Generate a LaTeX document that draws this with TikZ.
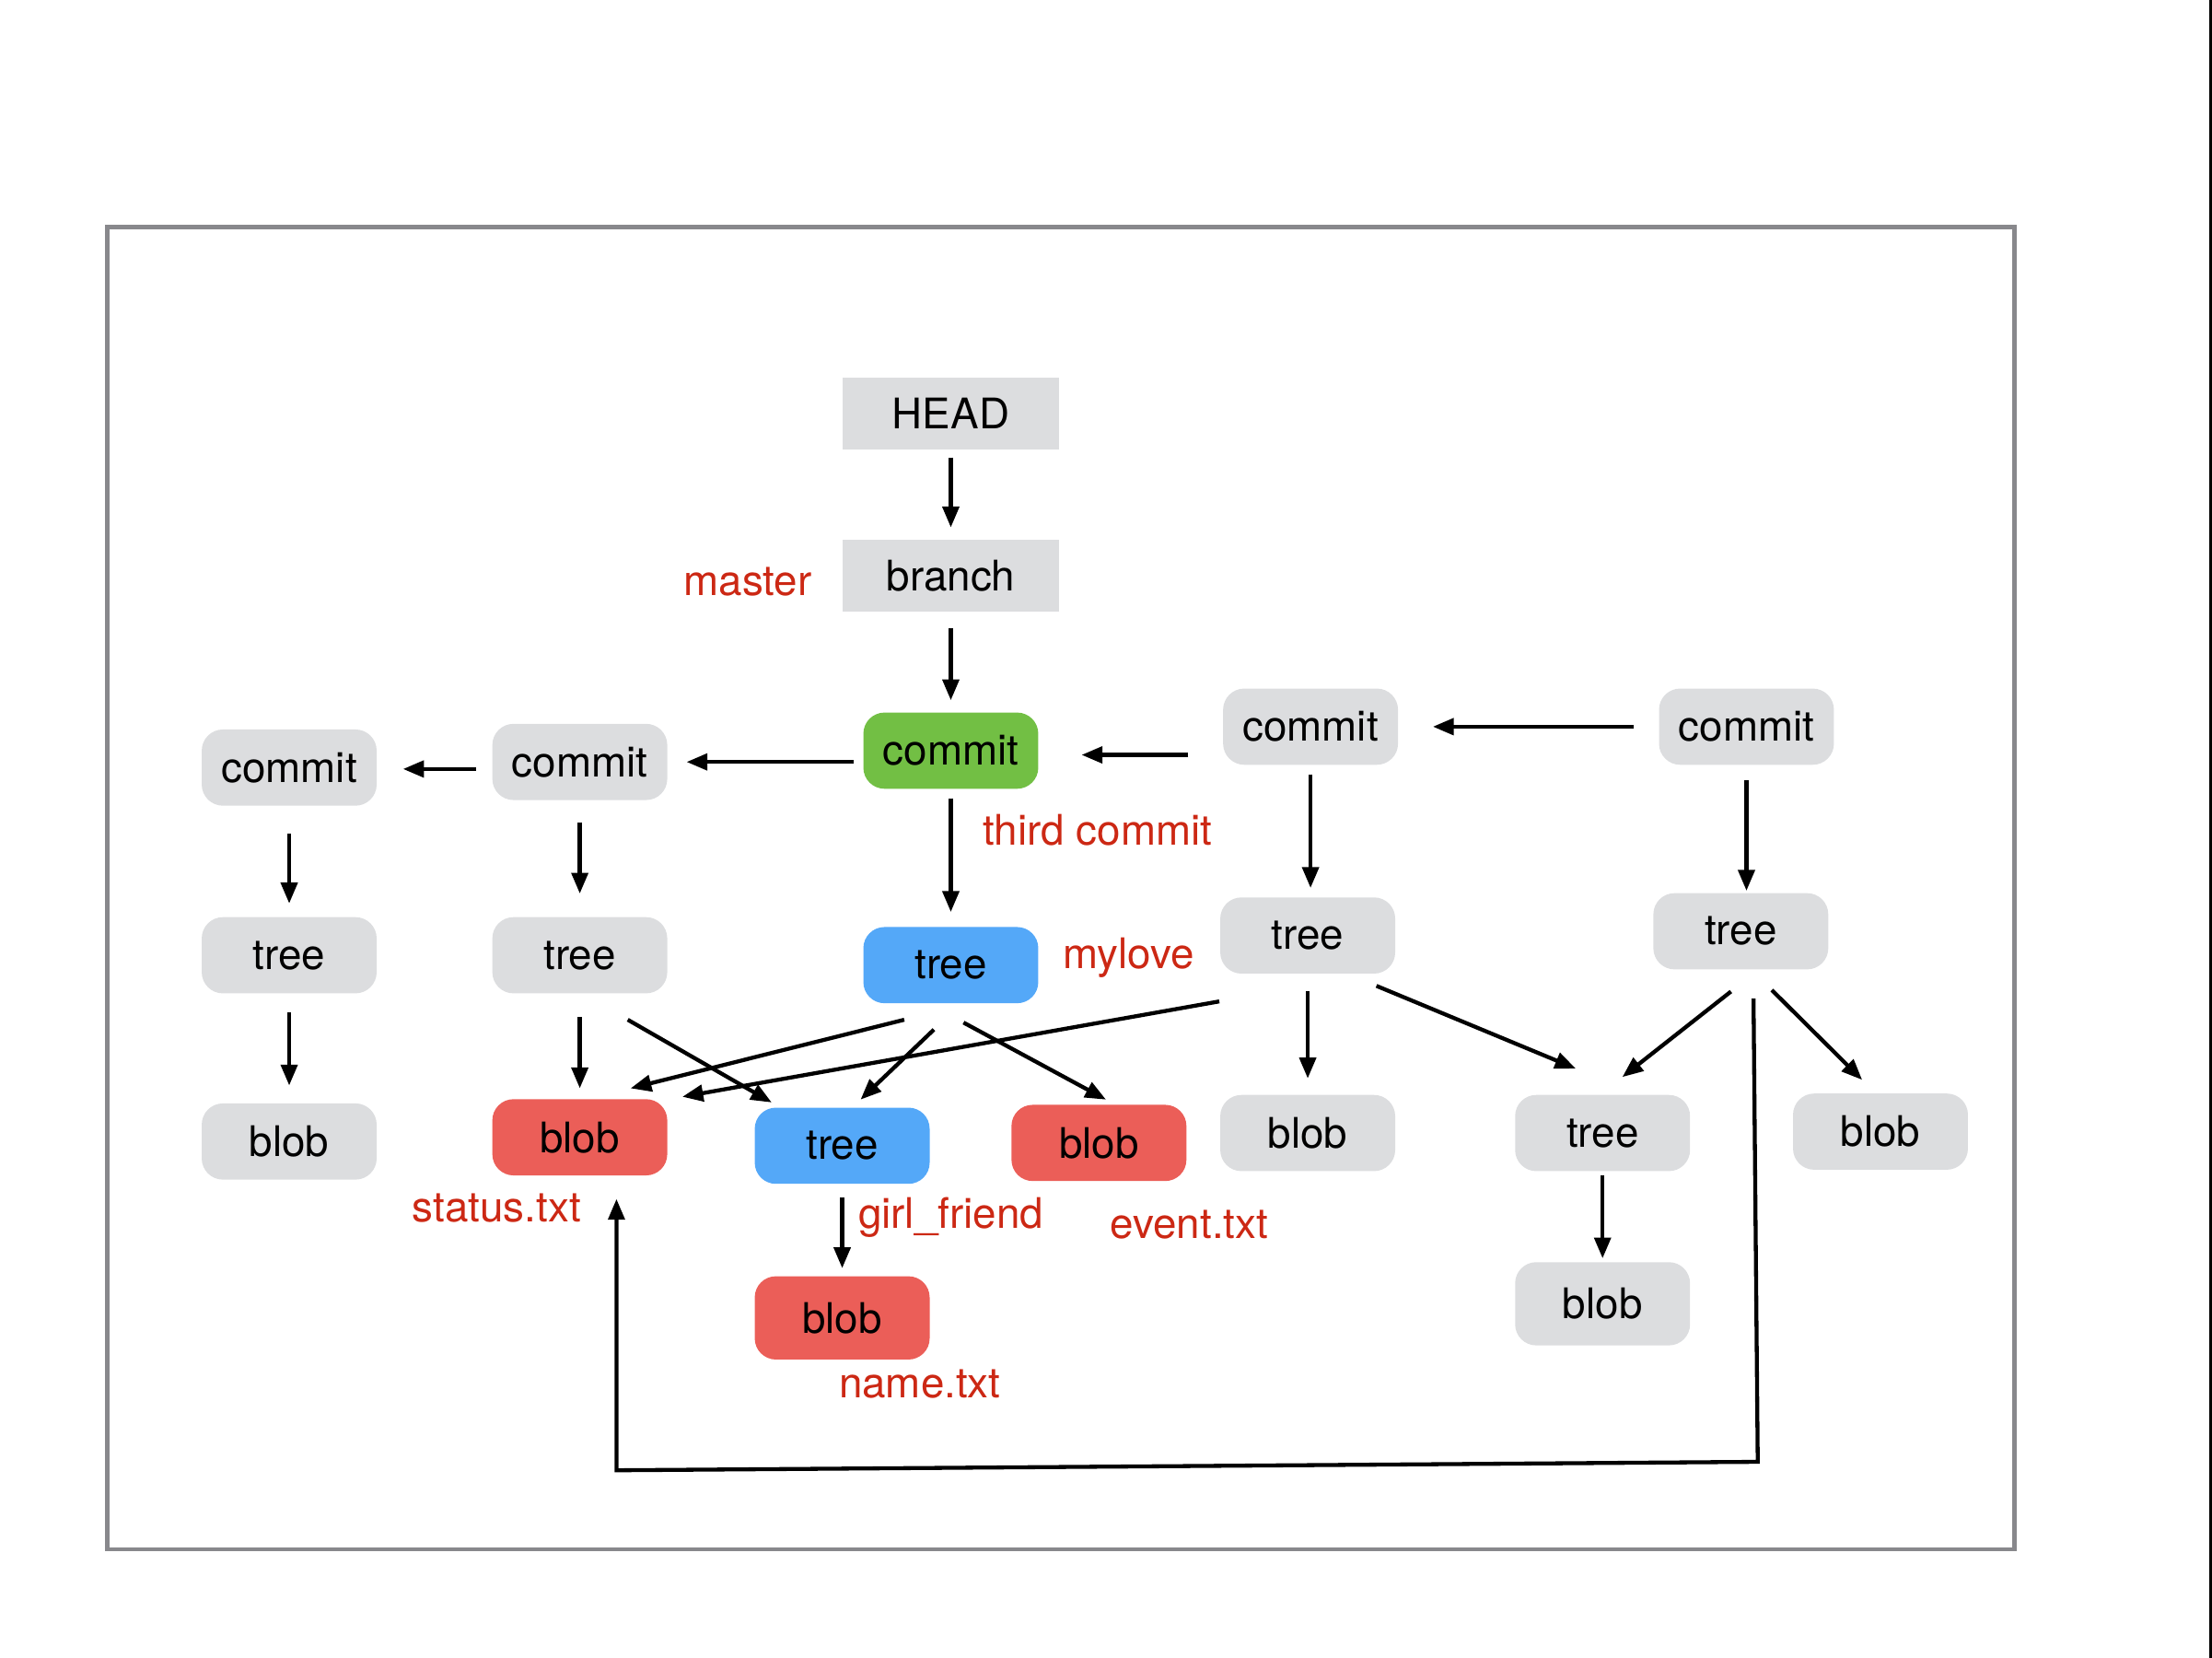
\documentclass[tikz,border=0pt]{standalone}
\usepackage{fontspec}
\setmainfont{TeX Gyre Heros}
\usetikzlibrary{arrows.meta}
\definecolor{boxgray}{RGB}{220,221,223}
\definecolor{commitgreen}{RGB}{114,191,68}
\definecolor{treeblue}{RGB}{84,168,248}
\definecolor{blobred}{RGB}{235,94,88}
\definecolor{labelred}{RGB}{204,40,20}
\definecolor{framegray}{RGB}{136,136,140}
\begin{document}
\begin{tikzpicture}[x=0.1mm,y=-0.1mm,
	font=\fontsize{8.5pt}{10pt}\selectfont,
	obj/.style={fill=boxgray,rounded corners=1.5mm,minimum width=12.4mm,minimum height=5.4mm,inner sep=0pt},
	ref/.style={fill=boxgray,minimum width=15.3mm,minimum height=5.1mm,inner sep=0pt},
	cur/.style={obj,fill=commitgreen},
	dir/.style={obj,fill=treeblue},
	file/.style={obj,fill=blobred},
	tag/.style={text=labelred},
	arr/.style={line width=0.8pt,-{Triangle[length=4.2pt,width=3.3pt]}}]
	\useasboundingbox (0,0) rectangle (1568,1175);
	\draw[framegray,line width=0.85pt] (76,161) rectangle (1428,1098);
	\draw[line width=0.4pt] (1567,0) -- (1567,1175);

	\node[ref] (head) at (674,293) {HEAD};
	\node[ref] (branch) at (674,408) {branch};
	\node[cur] (c3) at (674,532) {commit\hspace{1mm}};
	\node[obj] (c2) at (411,540) {commit};
	\node[obj] (c1) at (205,544) {commit};
	\node[obj] (c4) at (929,515) {commit};
	\node[obj] (c5) at (1238,515) {commit};
	\node[obj] (t1) at (205,677) {tree};
	\node[obj] (t2) at (411,677) {tree};
	\node[dir] (t3) at (674,684) {tree};
	\node[obj] (t4) at (927,663) {tree};
	\node[obj] (t5) at (1234,660) {tree};
	\node[obj] (b1) at (205,809) {blob};
	\node[file] (bS) at (411,806) {blob};
	\node[dir] (tG) at (597,812) {tree};
	\node[file] (bE) at (779,810) {blob};
	\node[obj] (b4) at (927,803) {blob};
	\node[obj] (t6) at (1136,803) {tree};
	\node[obj] (b5) at (1333,802) {blob};
	\node[obj,minimum height=5.9mm] (b6) at (1136,924) {blob};
	\node[file,minimum height=5.9mm] (bN) at (597,934) {blob};

	\node[tag] (lMaster) at (530,412) {master};
	\node[tag] (lThird) at (778,588) {third commit};
	\node[tag] (lMylove) at (800,679) {mylove};
	\node[tag] (lStatus) at (352,856) {status.txt};
	\node[tag] (lGirl) at (674,863) {girl\_friend};
	\node[tag] (lEvent) at (843,868) {event.txt};
	\node[tag] (lName) at (652,981) {name.txt};

	\draw[arr,shorten <=0.5mm,shorten >=0.8mm] (head) -- (branch);
	\draw[arr,shorten <=1.1mm,shorten >=0.8mm] (branch) -- (c3);
	\draw[arr] ([shift={(-6,8)}]c3.west) -- ([shift={(13,0)}]c2.east);
	\draw[arr] ([shift={(-11,5)}]c2.west) -- ([shift={(18,1)}]c1.east);
	\draw[arr] ([shift={(-24,20)}]c4.west) -- ([shift={(30,3)}]c3.east);
	\draw[arr] ([shift={(-17,0)}]c5.west) -- ([shift={(24,0)}]c4.east);
	\draw[arr,shorten <=0.6mm,shorten >=1mm] (c3) -- (t3);
	\draw[arr,shorten <=1.5mm,shorten >=1.6mm] (c2) -- (t2);
	\draw[arr,shorten <=1.9mm,shorten >=0.9mm] (c1) -- (t1);
	\draw[arr,shorten <=1.3mm,shorten >=1.2mm] (t1) -- (b1);
	\draw[arr,shorten <=1.6mm,shorten >=0.7mm] (t2) -- (bS);
	\draw[arr] ([shift={(34,18)}]t2.south) -- ([shift={(-50,-3)}]tG.north);
	\draw[arr] ([shift={(-33,11)}]t3.south) -- ([shift={(36,-7)}]bS.north);
	\draw[arr] ([shift={(-12,18)}]t3.south) -- ([shift={(13,-5)}]tG.north);
	\draw[arr] ([shift={(9,13)}]t3.south) -- ([shift={(5,-3)}]bE.north);
	\draw[arr] ([shift={(0,19)}]t4.south west) -- ([shift={(10,-1)}]bS.north east);
	\draw[arr,shorten <=0.6mm,shorten >=0.6mm] (c4.south) -- (c4.south |- t4.north);
	\draw[arr,shorten <=1.2mm,shorten >=1.1mm] (t4) -- (b4);
	\draw[arr] ([shift={(-14,8)}]t4.south east) -- ([shift={(-19,-18)}]t6.north);
	\draw[arr,shorten <=1mm,shorten >=0.1mm] (c5.south) -- (c5.south |- t5.north);
	\draw[arr] ([shift={(-7,15)}]t5.south) -- ([shift={(14,-12)}]t6.north);
	\draw[arr] ([shift={(22,14)}]t5.south) -- ([shift={(-13,-9)}]b5.north);
	\draw[arr] ([shift={(9,20)}]t5.south) -- (1246,1036) -- (437,1042) -- ([shift={(26,16)}]bS.south);
	\draw[arr,shorten <=0.9mm,shorten >=0.5mm] (tG) -- (bN);
	\draw[arr,shorten <=0.2mm,shorten >=0.2mm] (t6) -- (b6);
\end{tikzpicture}
\end{document}
